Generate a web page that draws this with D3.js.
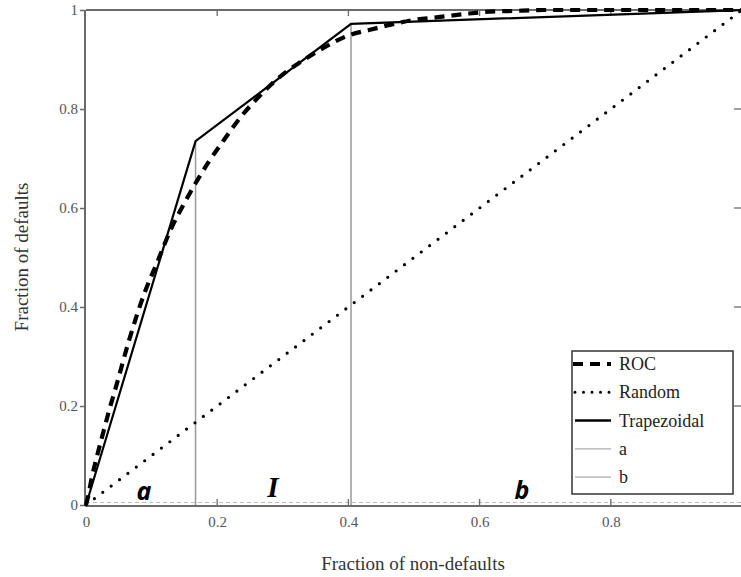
<!DOCTYPE html>
<html><head><meta charset="utf-8">
<script src="https://cdn.jsdelivr.net/npm/d3@7"></script>
<style>body{margin:0;background:#fff}svg{display:block}</style>
</head><body>
<svg id="c" width="741" height="577"></svg>
<script>
const rocX = [0,0.003,0.008,0.017,0.027,0.035,0.046,0.065,0.088,0.11,0.129,0.15,0.167,0.187,0.21,0.236,0.26,0.281,0.305,0.327,0.36,0.403,0.433,0.463,0.5,0.54,0.578,0.608,0.65,0.7,0.8,0.9,1];
const rocY = [0,0.016,0.05,0.1,0.15,0.19,0.24,0.33,0.424,0.495,0.556,0.61,0.65,0.693,0.737,0.784,0.82,0.848,0.875,0.895,0.922,0.95,0.96,0.97,0.98,0.986,0.992,0.996,0.998,1,1,1,1];
const trapX = [0,0.167,0.404,1];
const trapY = [0,0.735,0.972,1];
const randX = [0,1];
const randY = [0,1];
const aX = 0.167, bX = 0.404;
const xTicks = [0,0.2,0.4,0.6,0.8];
const yTicks = [0,0.2,0.4,0.6,0.8,1];
const legendLabels = ["ROC","Random","Trapezoidal","a","b"];

const svg = d3.select("#c");
const x = d3.scaleLinear().domain([0,1]).range([86,742]);
const y = d3.scaleLinear().domain([0,1]).range([505,10]);
const serif = "'Liberation Serif','Times New Roman',serif";
const frame = "#6b6b6b";

// light dashed baseline
svg.append("line").attr("x1",x(0)).attr("x2",741).attr("y1",y(0)-2.5).attr("y2",y(0)-2.5)
  .attr("stroke","#bbb").attr("stroke-width",1.2).attr("stroke-dasharray","4,3");

// frame lines
svg.append("line").attr("x1",x(0)).attr("x2",741).attr("y1",y(1)).attr("y2",y(1)).attr("stroke",frame).attr("stroke-width",2);
svg.append("line").attr("x1",x(0)).attr("x2",741).attr("y1",y(0)+1).attr("y2",y(0)+1).attr("stroke",frame).attr("stroke-width",2);
svg.append("line").attr("x1",x(0)-1).attr("x2",x(0)-1).attr("y1",y(1)).attr("y2",y(0)+1).attr("stroke",frame).attr("stroke-width",2);

// axes via d3
const yAxis = d3.axisLeft(y).tickValues(yTicks).tickFormat(d=>d3.format("")(d)).tickSize(5).tickPadding(2);
const gy = svg.append("g").attr("transform",`translate(${x(0)-1},0)`).call(yAxis);
gy.select(".domain").remove();
gy.selectAll(".tick line").attr("stroke",frame).attr("stroke-width",1.5);
gy.selectAll(".tick text").attr("font-family",serif).attr("font-size",15).attr("fill","#555");

const xAxis = d3.axisBottom(x).tickValues(xTicks).tickFormat(d=>d3.format("")(d)).tickSize(0).tickPadding(10);
const gx = svg.append("g").attr("transform",`translate(0,${y(0)+1})`).call(xAxis);
gx.select(".domain").remove();
gx.selectAll(".tick text").attr("font-family",serif).attr("font-size",15).attr("fill","#555");

// inner ticks bottom and top, right
xTicks.filter(d=>d>0).forEach(d=>{
  svg.append("line").attr("x1",x(d)).attr("x2",x(d)).attr("y1",y(0)).attr("y2",y(0)-6).attr("stroke",frame).attr("stroke-width",1.3);
  svg.append("line").attr("x1",x(d)).attr("x2",x(d)).attr("y1",y(1)).attr("y2",y(1)+6).attr("stroke",frame).attr("stroke-width",1.3);
});
yTicks.filter(d=>d>0&&d<1).forEach(d=>{
  svg.append("line").attr("x1",741).attr("x2",734).attr("y1",y(d)).attr("y2",y(d)).attr("stroke",frame).attr("stroke-width",1.3);
});

// vertical a, b lines
svg.append("line").attr("x1",x(aX)).attr("x2",x(aX)).attr("y1",y(0)).attr("y2",y(trapY[1])).attr("stroke","#999").attr("stroke-width",1.5);
svg.append("line").attr("x1",x(bX)).attr("x2",x(bX)).attr("y1",y(0)).attr("y2",y(trapY[2])).attr("stroke","#999").attr("stroke-width",1.5);

const line = d3.line().x(d=>x(d[0])).y(d=>y(d[1]));
// random
svg.append("path").attr("d",line(d3.zip(randX,randY))).attr("fill","none").attr("stroke","#000")
  .attr("stroke-width",3.2).attr("stroke-linecap","round").attr("stroke-dasharray","0,10.5");
// trapezoidal
svg.append("path").attr("d",line(d3.zip(trapX,trapY))).attr("fill","none").attr("stroke","#000").attr("stroke-width",2.2);
// ROC
svg.append("path").attr("d",d3.line().curve(d3.curveMonotoneX).x(d=>x(d[0])).y(d=>y(d[1]))(d3.zip(rocX,rocY)))
  .attr("fill","none").attr("stroke","#000").attr("stroke-width",4.2).attr("stroke-dasharray","10,7");

// region letters
const sansBI = "'Noto Sans','Open Sans',sans-serif";
svg.append("text").attr("x",144).attr("y",500).attr("text-anchor","middle").attr("font-family",sansBI)
  .attr("font-style","italic").attr("font-weight","bold").attr("font-size",25).text("a");
svg.append("text").attr("x",273).attr("y",497).attr("text-anchor","middle").attr("font-family",serif)
  .attr("font-style","italic").attr("font-weight","bold").attr("font-size",29).text("I");
svg.append("text").attr("x",522).attr("y",499).attr("text-anchor","middle").attr("font-family",sansBI)
  .attr("font-style","italic").attr("font-weight","bold").attr("font-size",25).text("b");

// legend
const lg = svg.append("g");
lg.append("rect").attr("x",572).attr("y",351).attr("width",161).attr("height",143).attr("fill","#fff").attr("stroke","#333").attr("stroke-width",1.5);
const styles = [
  {w:4.2,dash:"10,7",c:"#000",cap:"butt"},
  {w:3,dash:"0,8.5",c:"#000",cap:"round"},
  {w:2.5,dash:null,c:"#000",cap:"butt"},
  {w:1.3,dash:null,c:"#aaa",cap:"butt"},
  {w:1.3,dash:null,c:"#aaa",cap:"butt"}];
legendLabels.forEach((t,i)=>{
  const yy = 364 + i*28.3;
  const s = styles[i];
  const l = lg.append("line").attr("x1",i===0?573:575).attr("x2",611).attr("y1",yy).attr("y2",yy)
    .attr("stroke",s.c).attr("stroke-width",s.w).attr("stroke-linecap",s.cap);
  if(s.dash) l.attr("stroke-dasharray",s.dash);
  lg.append("text").attr("x",619).attr("y",yy+6).attr("font-family",serif).attr("font-size",18).attr("fill","#222").text(t);
});

// axis titles
svg.append("text").attr("x",413).attr("y",570).attr("text-anchor","middle").attr("font-family",serif).attr("font-size",19).attr("fill","#333").text("Fraction of non-defaults");
svg.append("text").attr("transform","translate(28,257) rotate(-90)").attr("text-anchor","middle").attr("font-family",serif).attr("font-size",19).attr("fill","#333").text("Fraction of defaults");
</script>
</body></html>
